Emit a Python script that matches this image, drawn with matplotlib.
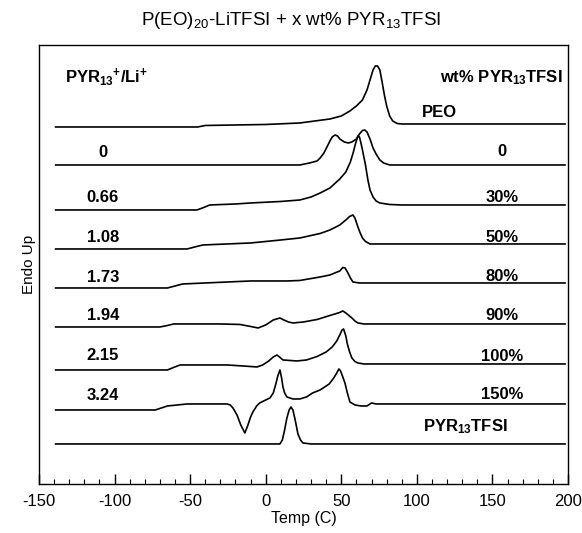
import matplotlib
matplotlib.use("Agg")
import matplotlib.pyplot as plt
from matplotlib.ticker import MultipleLocator

plt.rcParams['font.family'] = ['Liberation Sans', 'DejaVu Sans']
plt.rcParams['mathtext.fontset'] = 'custom'
plt.rcParams['mathtext.rm'] = 'Liberation Sans'
plt.rcParams['mathtext.bf'] = 'Liberation Sans:bold'
plt.rcParams['mathtext.default'] = 'regular'
plt.rcParams['axes.unicode_minus'] = False

# DSC heating traces, stacked (temperature in C, signal in arb. units incl. offset)
temp_peo = [-139, -45, -40, 0, 22.6, 42.5, 50, 55.7, 60, 64, 67, 69, 71, 72.5, 74, 75.5,
            77, 78.5, 80, 82, 84, 87, 90, 120, 198]
sig_peo = [357, 357, 358.5, 359.5, 361, 365, 368, 373, 378, 384, 394, 404, 414, 418, 418, 414,
           402, 389, 378, 368, 363, 360.5, 360, 360, 360]

temp_0 = [-139, 0, 22.6, 29, 34, 36, 38.5, 40.5, 42.5, 44, 45.8, 47.5, 49, 52, 54.6, 57, 60,
          62, 64, 65.5, 67, 69, 71, 73, 75.5, 78, 82, 198]
sig_0 = [319, 319, 319, 321, 323, 326, 331, 337, 343, 347, 349, 348, 345, 342, 341, 342, 345,
         350, 353.5, 354, 352, 345, 336, 330, 324, 321, 319, 319]

temp_30 = [-139, -45.5, -41, -37, -20, -10, 10, 22.6, 30, 36, 42.5, 49, 53, 56, 58, 59.5, 61,
           62, 63, 64, 66, 67.6, 69, 71, 73, 75.5, 82, 90, 198]
sig_30 = [274, 274, 276.5, 279, 280, 281, 282.5, 284, 287, 291, 296, 305, 312, 322, 332, 341,
          348, 347, 341, 334, 319, 304, 294, 287, 283, 281, 279.5, 279, 279]

temp_50 = [-139, -52, -47, -41.5, -10, 10, 22.6, 36, 42.5, 49, 53, 55.5, 57.7, 59, 61, 62.5,
           64, 66, 69, 198]
sig_50 = [235, 235, 237, 239, 241, 244, 246, 250.5, 254, 259, 264, 267.5, 269, 266, 257, 251,
          246, 242.5, 240, 240]

temp_80 = [-139, -65, -60, -55, -40, -10, 14, 22.6, 36, 42.5, 49, 51, 52.5, 54.4, 56, 57.7,
           62, 198]
sig_80 = [196, 196, 198, 200, 201, 203, 203, 203.5, 207, 209, 213, 216.5, 216, 211, 206, 202,
          201, 201]

temp_90 = [-139, -70, -65, -61, -30, -17, -10, -5, 0, 5, 9.4, 12, 15, 18, 25, 34, 42.5, 49,
           51, 53, 55, 57, 59, 61, 65, 198]
sig_90 = [157, 157, 158.5, 160, 160, 159.5, 157.5, 156, 159, 164, 166, 164, 162, 161, 162,
          164.5, 168.5, 171.5, 173, 171, 168.5, 166, 163, 161, 160, 160]

temp_100 = [-139, -65, -61, -56.7, -40, -25.6, -15, -5.8, -2, 2, 5, 7.4, 9.5, 11.4, 20.6, 27,
            34, 40, 44, 47, 49, 50.5, 51.5, 53, 54, 55.5, 57, 59, 61, 65, 198]
sig_100 = [114, 114, 116.5, 119, 119, 119, 118, 117, 119, 123, 127, 129, 126.5, 124, 123, 124,
           127.5, 132, 137, 143, 149, 154, 155, 148, 140, 132, 126, 122.5, 121, 120, 120]

temp_150 = [-139, -73, -69, -65, -52, -25.6, -23.5, -21.7, -19, -16.5, -13.8, -12, -10, -8.5,
            -6, -4, 0, 2.8, 5, 6.5, 8, 9.4, 10.5, 11.4, 12.5, 14, 18, 22.6, 27, 31, 36, 42, 45,
            47, 48.4, 49.5, 51, 52.4, 54, 55.7, 59, 63, 67, 70, 73, 198]
sig_150 = [74, 74, 76, 78, 80, 80, 79, 76, 69, 59, 51, 58, 67, 72, 78, 81, 84, 86, 91, 99, 108,
           114, 106, 97, 91, 87, 85, 85, 87, 91, 94, 100, 106, 111, 115, 113, 107, 101, 91, 82,
           79, 78, 78, 81, 80, 80]

temp_il = [-139, 9.4, 11, 12.5, 14, 15.5, 16.7, 18, 19.5, 21.3, 23, 24.6, 30, 198]
sig_il = [40, 40, 44, 54, 66, 74, 77, 74, 64, 50, 44, 41, 40, 40]

# labels: PYR13+/Li+ ratio on the left, wt% PYR13TFSI on the right
ratio_labels = ["0", "0.66", "1.08", "1.73", "1.94", "2.15", "3.24"]
ratio_y = [327, 282, 242, 202, 164, 124, 84]
wt_labels = ["0", "30%", "50%", "80%", "90%", "100%", "150%"]
wt_y = [328, 282, 242, 203, 164, 123, 85]

curves = [(temp_peo, sig_peo), (temp_0, sig_0), (temp_30, sig_30), (temp_50, sig_50),
          (temp_80, sig_80), (temp_90, sig_90), (temp_100, sig_100), (temp_150, sig_150),
          (temp_il, sig_il)]

fig = plt.figure(figsize=(5.82, 5.33), dpi=100)
ax = fig.add_axes([0.067, 0.092, 0.909, 0.8236])

for t, s in curves:
    ax.plot(t, s, color='black', linewidth=1.2)

bold = dict(fontsize=12, fontweight='bold', color='black')
for lab, y in zip(ratio_labels, ratio_y):
    ax.text(-107.7, y, lab, ha='center', va='baseline', **bold)
for lab, y in zip(wt_labels, wt_y):
    ax.text(156.2, y, lab, ha='center', va='baseline', **bold)

ax.text(-132.8, 402, r"PYR$_{13}$$^{+}$/Li$^{+}$", ha='left', va='baseline', **bold)
ax.text(196.6, 402, r"wt% PYR$_{13}$TFSI", ha='right', va='baseline', **bold)
ax.text(115.2, 367, "PEO", ha='center', va='baseline', **bold)
ax.text(104, 53, r"PYR$_{13}$TFSI", ha='left', va='baseline', **bold)

ax.set_xlim(-150, 200)
ax.set_ylim(0, 439)
ax.set_yticks([])
ax.xaxis.set_major_locator(MultipleLocator(50))
ax.xaxis.set_minor_locator(MultipleLocator(10))
ax.tick_params(axis='x', which='major', direction='in', length=7, width=1, labelsize=12, pad=7)
ax.tick_params(axis='x', which='minor', direction='in', length=3.5, width=0.8)
for sp in ax.spines.values():
    sp.set_linewidth(1.0)

ax.set_xlabel("Temp (C)", fontsize=11.5, labelpad=2)
ax.set_ylabel("Endo Up", fontsize=11, labelpad=2)
fig.text(0.5, 0.962, r"P(EO)$_{20}$-LiTFSI + x wt% PYR$_{13}$TFSI", ha='center', va='center',
         fontsize=13.5)

fig.savefig("out.png", dpi=100)
